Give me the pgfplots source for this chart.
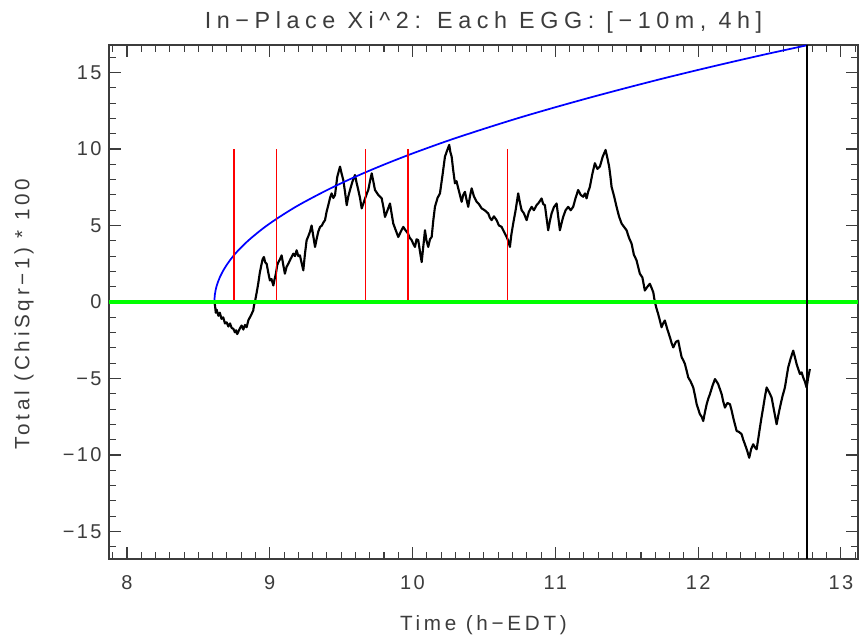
\documentclass[border=0pt]{standalone}
\usepackage{fontspec}
\setmainfont{Liberation Sans}[LetterSpace=12]
\newfontfamily\widefont{Liberation Sans}[LetterSpace=18]
\newfontfamily\titlefont{Liberation Sans}[LetterSpace=24]
\usepackage{pgfplots}
\pgfplotsset{compat=1.18}
\definecolor{idlgreen}{RGB}{0,255,0}
\definecolor{idlblue}{RGB}{0,0,255}
\definecolor{idlred}{RGB}{255,0,0}
\definecolor{idltext}{RGB}{60,60,60}

\begin{document}
\begin{tikzpicture}[x=1pt,y=1pt]
\useasboundingbox (-81.75,-59.25) rectangle (562.5,419.25);
\begin{axis}[%
at={(0,0)}, anchor=south west,
width=561.75pt,
height=385.5pt,
scale only axis,
xmin=7.874, xmax=13.12,
ymin=-16.8, ymax=16.8,
xtick={8,9,10,11,12,13},
ytick={-15,-10,-5,0,5,10,15},
yticklabels={−15,−10,−5,0,5,10,15},
minor xtick={7.9,8.0,...,13.1},
minor ytick={-16,-15,...,16},
tick align=inside,
major tick length=9pt,
minor tick length=5pt,
axis line style={idltext, line width=1.1pt},
every tick/.style={idltext, line width=0.8pt},
/pgf/number format/assume math mode=true,
ticklabel style={font=\fontsize{15}{15}\selectfont, text=idltext},
xticklabel style={yshift=-9pt},
yticklabel style={xshift=-2pt},
title={In−Place Xi\textasciicircum 2: Each EGG: [−10m, 4h]},
title style={font=\titlefont\fontsize{17.5}{17.5}\selectfont, text=idltext, yshift=-1pt},
xlabel={Time (h−EDT)},
xlabel style={font=\widefont\fontsize{15.5}{15.5}\selectfont, text=idltext, yshift=-12pt},
ylabel={Total (ChiSqr−1) * 100},
ylabel style={font=\widefont\fontsize{15.5}{15.5}\selectfont, text=idltext, yshift=15pt, xshift=-9pt},
clip=true
]
% cumulative deviation trace
\addplot[black, line width=1.6pt, line join=round] coordinates {
(8.612,0.0) (8.616,-0.2) (8.622,-0.7) (8.628,-0.5) (8.640,-0.9) (8.650,-0.7)
(8.662,-1.1) (8.674,-1.0) (8.686,-1.4) (8.698,-1.33) (8.710,-1.6) (8.722,-1.4)
(8.733,-1.7) (8.745,-1.75) (8.756,-1.98) (8.764,-1.85) (8.772,-2.1) (8.782,-1.9)
(8.792,-1.7) (8.803,-1.54) (8.815,-1.8) (8.826,-1.5) (8.838,-1.65) (8.850,-1.2)
(8.861,-1.0) (8.872,-0.8) (8.884,-0.56) (8.890,-0.2) (8.896,0.0) (8.908,0.6)
(8.919,1.19) (8.930,1.9) (8.943,2.5) (8.950,2.8) (8.959,2.94) (8.968,2.6)
(8.978,2.5) (8.990,1.9) (9.001,1.41) (9.012,1.5) (9.025,1.08) (9.034,1.5)
(9.043,1.85) (9.052,2.4) (9.060,2.6) (9.072,2.8) (9.083,3.05) (9.095,2.4)
(9.106,1.85) (9.118,2.3) (9.130,2.5) (9.145,2.8) (9.165,3.16) (9.177,3.0)
(9.188,3.38) (9.200,3.0) (9.211,3.05) (9.222,2.6) (9.235,2.07) (9.246,3.1)
(9.258,4.03) (9.270,4.3) (9.282,4.6) (9.293,5.0) (9.305,4.3) (9.317,3.6)
(9.330,4.2) (9.340,4.6) (9.352,4.9) (9.365,5.0) (9.376,5.2) (9.387,5.35)
(9.398,5.9) (9.410,6.33) (9.422,6.8) (9.433,7.1) (9.445,6.8) (9.457,6.99)
(9.465,7.6) (9.473,8.19) (9.482,8.5) (9.492,8.85) (9.503,8.4) (9.515,7.97)
(9.527,7.2) (9.539,6.33) (9.550,6.9) (9.562,7.32) (9.580,7.9) (9.597,8.3)
(9.608,7.8) (9.620,7.32) (9.632,6.8) (9.644,6.12) (9.658,6.5) (9.672,6.88)
(9.680,7.1) (9.690,7.32) (9.702,7.9) (9.714,8.41) (9.725,7.9) (9.737,7.32)
(9.760,7.0) (9.784,6.77) (9.796,6.2) (9.807,5.56) (9.825,6.0) (9.842,6.44)
(9.853,5.8) (9.865,5.13) (9.882,4.7) (9.900,4.25) (9.918,4.6) (9.935,4.91)
(9.950,4.7) (9.968,4.48) (9.980,4.2) (9.994,4.04) (10.005,3.8) (10.017,3.6)
(10.028,4.1) (10.040,4.04) (10.052,3.3) (10.064,2.61) (10.075,3.6) (10.087,4.69)
(10.098,4.0) (10.110,3.6) (10.122,4.1) (10.134,4.25) (10.145,5.3) (10.157,6.22)
(10.175,6.8) (10.192,7.1) (10.210,8.3) (10.227,9.5) (10.242,9.9) (10.257,10.27)
(10.265,9.8) (10.274,9.5) (10.285,8.6) (10.297,7.76) (10.308,7.9) (10.320,7.43)
(10.332,7.0) (10.344,6.55) (10.355,7.0) (10.367,7.2) (10.378,6.7) (10.390,6.22)
(10.402,6.9) (10.414,7.43) (10.430,6.9) (10.449,6.55) (10.465,6.4) (10.484,6.12)
(10.505,6.0) (10.530,5.79) (10.542,5.5) (10.554,5.35) (10.570,5.6) (10.589,5.35)
(10.605,5.0) (10.624,4.91) (10.640,4.6) (10.659,4.25) (10.670,4.0) (10.682,3.6)
(10.692,4.4) (10.705,5.13) (10.722,6.0) (10.740,7.1) (10.752,6.5) (10.764,6.0)
(10.780,5.8) (10.799,5.35) (10.815,5.9) (10.834,6.22) (10.850,6.0) (10.869,6.33)
(10.885,6.5) (10.904,6.77) (10.915,6.4) (10.927,6.33) (10.940,5.4) (10.950,4.69)
(10.962,5.3) (10.974,5.79) (10.990,6.2) (11.009,6.44) (11.020,5.6) (11.032,4.69)
(11.045,5.2) (11.055,5.56) (11.072,6.0) (11.090,6.22) (11.108,6.0) (11.125,6.22)
(11.142,6.8) (11.160,7.32) (11.178,7.0) (11.195,6.88) (11.208,7.1) (11.219,6.77)
(11.230,7.2) (11.242,7.53) (11.260,8.4) (11.277,9.07) (11.295,8.7) (11.312,8.85)
(11.332,9.5) (11.352,9.94) (11.365,9.4) (11.377,8.85) (11.386,8.2) (11.394,7.53)
(11.412,6.9) (11.429,6.22) (11.446,5.6) (11.464,5.13) (11.482,4.9) (11.499,4.69)
(11.516,4.2) (11.534,3.82) (11.550,3.1) (11.569,2.72) (11.580,2.3) (11.592,1.85)
(11.610,1.6) (11.627,0.75) (11.645,1.0) (11.662,1.19) (11.675,0.9) (11.686,0.64)
(11.697,0.0) (11.708,-0.4) (11.720,-0.77) (11.732,-1.2) (11.744,-1.65) (11.755,-1.4)
(11.767,-1.21) (11.785,-1.8) (11.803,-2.31) (11.815,-2.7) (11.826,-2.97) (11.845,-2.6)
(11.861,-2.53) (11.873,-3.1) (11.885,-3.62) (11.896,-3.8) (11.908,-4.06) (11.920,-4.5)
(11.931,-4.93) (11.948,-5.2) (11.966,-5.59) (11.978,-6.1) (11.990,-6.68) (12.001,-7.0)
(12.013,-7.34) (12.025,-7.5) (12.036,-7.78) (12.048,-7.2) (12.060,-6.68) (12.072,-6.3)
(12.083,-6.02) (12.100,-5.5) (12.118,-5.04) (12.130,-5.2) (12.141,-5.37) (12.153,-5.7)
(12.165,-6.02) (12.176,-6.5) (12.188,-6.9) (12.205,-6.6) (12.223,-6.68) (12.235,-7.1)
(12.246,-7.56) (12.258,-8.0) (12.270,-8.43) (12.288,-8.5) (12.305,-8.65) (12.316,-9.0)
(12.328,-9.3) (12.343,-9.7) (12.358,-10.18) (12.372,-9.6) (12.386,-9.3) (12.398,-9.5)
(12.410,-9.63) (12.422,-8.9) (12.433,-8.21) (12.445,-7.5) (12.456,-6.9) (12.468,-6.2)
(12.480,-5.59) (12.498,-5.9) (12.515,-6.25) (12.532,-7.1) (12.550,-7.99) (12.562,-7.4)
(12.573,-6.9) (12.590,-6.2) (12.608,-5.59) (12.620,-4.9) (12.631,-4.28) (12.648,-3.7)
(12.666,-3.18) (12.678,-3.6) (12.690,-4.06) (12.702,-4.4) (12.713,-4.71) (12.725,-4.6)
(12.736,-4.93) (12.748,-5.2) (12.760,-5.59) (12.772,-4.9) (12.783,-4.38)
};
% expected envelope
\addplot[idlblue, line width=1.3pt, smooth] coordinates {
(8.612,0) (8.615,0.45) (8.62,0.74) (8.63,1.11) (8.65,1.61) (8.68,2.15)
(8.72,2.71) (8.77,3.28) (8.85,4.02) (8.95,4.79) (9.05,5.45) (9.2,6.32)
(9.4,7.31) (9.6,8.19) (9.8,8.98) (10.0,9.71) (10.25,10.55) (10.5,11.32)
(10.75,12.05) (11.0,12.73) (11.25,13.38) (11.5,14.00) (11.75,14.60)
(12.0,15.17) (12.25,15.72) (12.5,16.25) (12.762,16.78)
};
% event markers
\addplot[idlred, line width=1.1pt] coordinates {(8.751,0) (8.751,10)};
\addplot[idlred, line width=1.1pt] coordinates {(9.048,0) (9.048,10)};
\addplot[idlred, line width=1.1pt] coordinates {(9.671,0) (9.671,10)};
\addplot[idlred, line width=1.1pt] coordinates {(9.968,0) (9.968,10)};
\addplot[idlred, line width=1.1pt] coordinates {(10.666,0) (10.666,10)};
% zero line
\addplot[idlgreen, line width=2.8pt] coordinates {(7.874,0) (13.12,0)};
% end of window
\addplot[black, line width=1.4pt] coordinates {(12.762,-16.8) (12.762,16.8)};
\end{axis}
\end{tikzpicture}
\end{document}
